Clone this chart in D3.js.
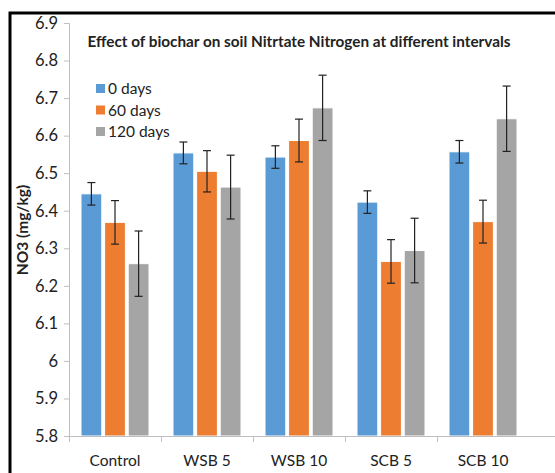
<!DOCTYPE html>
<html>
<head>
<meta charset="utf-8">
<script src="https://d3js.org/d3.v7.min.js"></script>
<style>
  body { margin: 0; background: #fff; }
  text { font-family: Lato, "Open Sans", sans-serif; fill: #222; }
</style>
</head>
<body>
<script>

var width = 555,
    height = 473;

// data
var categories = ["Control", "WSB 5", "WSB 10", "SCB 5", "SCB 10"];
var seriesNames = ["0 days", "60 days", "120 days"];
var colors = ["#5b9bd5", "#ed7d31", "#a5a5a5"];
var day0 = [6.445, 6.554, 6.543, 6.423, 6.557];
var day60 = [6.369, 6.505, 6.587, 6.265, 6.371];
var day120 = [6.259, 6.463, 6.674, 6.294, 6.645];
var err0 = [0.03, 0.029, 0.03, 0.03, 0.03];
var err60 = [0.058, 0.055, 0.057, 0.058, 0.057];
var err120 = [0.087, 0.085, 0.087, 0.086, 0.087];
var yTicks = [5.8, 5.9, 6, 6.1, 6.2, 6.3, 6.4, 6.5, 6.6, 6.7, 6.8, 6.9];

var values = [day0, day60, day120];
var errors = [err0, err60, err120];

var svg = d3.select("body").append("svg")
    .attr("width", width)
    .attr("height", height);

// outer frame
svg.append("rect")
    .attr("x", 10).attr("y", 13)
    .attr("width", 600).attr("height", 600)
    .attr("fill", "none")
    .attr("stroke", "#000")
    .attr("stroke-width", 3);

var x = d3.scaleBand()
    .domain(categories)
    .range([69, 529])
    .paddingInner(0)
    .paddingOuter(0);

var inner = d3.scaleBand()
    .domain(d3.range(3))
    .range([-34, 34])
    .paddingInner(0.12);

var y = d3.scaleLinear()
    .domain([5.8, 6.9])
    .range([436, 23]);

// y axis
var yAxis = svg.append("g")
    .attr("transform", "translate(69,0)")
    .call(d3.axisLeft(y).tickValues(yTicks).tickSize(5).tickPadding(6)
        .tickFormat(function(d) { return d3.format("")(+d.toFixed(1)); }));
yAxis.selectAll("path, line").attr("stroke", "#bfbfbf");
yAxis.select(".domain").attr("d", "M-5,23.5H0.5V436");
yAxis.selectAll("text")
    .style("font-family", "Lato, 'Open Sans', sans-serif")
    .style("font-size", "16.5px")
    .attr("fill", "#222");

// bars
var groups = svg.selectAll("g.cat")
    .data(categories)
    .enter().append("g")
    .attr("class", "cat")
    .attr("transform", function(d) { return "translate(" + (x(d) + x.bandwidth() / 2) + ",0)"; });

groups.each(function(c, i) {
    var g = d3.select(this);
    for (var s = 0; s < 3; s++) {
        var v = values[s][i], e = errors[s][i];
        g.append("rect")
            .attr("x", inner(s))
            .attr("y", y(v))
            .attr("width", inner.bandwidth())
            .attr("height", y(5.8) - y(v))
            .attr("fill", colors[s])
            .attr("stroke", "#fff")
            .attr("stroke-width", 1);
        var cx = inner(s) + inner.bandwidth() / 2;
        g.append("line")
            .attr("x1", cx).attr("x2", cx)
            .attr("y1", y(v + e)).attr("y2", y(v - e))
            .attr("stroke", "#222").attr("stroke-width", 1.2);
        [v + e, v - e].forEach(function(t) {
            g.append("line")
                .attr("x1", cx - 4).attr("x2", cx + 4)
                .attr("y1", y(t)).attr("y2", y(t))
                .attr("stroke", "#222").attr("stroke-width", 1.2);
        });
    }
});

// x axis
var xAxis = svg.append("g")
    .attr("transform", "translate(0,436)")
    .call(d3.axisBottom(x).tickSize(0).tickPadding(19));
xAxis.select(".domain").attr("stroke", "#bfbfbf").attr("d", "M69,0.5H560");
xAxis.selectAll("text")
    .style("font-family", "Lato, 'Open Sans', sans-serif")
    .style("font-size", "15.5px")
    .attr("fill", "#222");
xAxis.selectAll("line.sep")
    .data(categories)
    .enter().append("line")
    .attr("class", "sep")
    .attr("x1", function(d) { return x(d) + 0.5; })
    .attr("x2", function(d) { return x(d) + 0.5; })
    .attr("y1", 0).attr("y2", 6)
    .attr("stroke", "#bfbfbf");

// title
svg.append("text")
    .attr("x", 299)
    .attr("y", 47)
    .attr("text-anchor", "middle")
    .style("font-size", "15.3px")
    .style("font-weight", "bold")
    .text("Effect of biochar on soil Nitrtate Nitrogen at different intervals");

// y axis title
svg.append("text")
    .attr("transform", "translate(28,230) rotate(-90)")
    .attr("text-anchor", "middle")
    .style("font-size", "15.5px")
    .style("font-weight", "bold")
    .text("NO3 (mg/kg)");

// legend
var legend = svg.selectAll("g.leg")
    .data(seriesNames)
    .enter().append("g")
    .attr("class", "leg")
    .attr("transform", function(d, i) { return "translate(96," + (84 + i * 21.5) + ")"; });
legend.append("rect")
    .attr("width", 9).attr("height", 9)
    .attr("fill", function(d, i) { return colors[i]; });
legend.append("text")
    .attr("x", 12).attr("y", 10)
    .style("font-size", "15.5px")
    .text(function(d) { return d; });

</script>
</body>
</html>
